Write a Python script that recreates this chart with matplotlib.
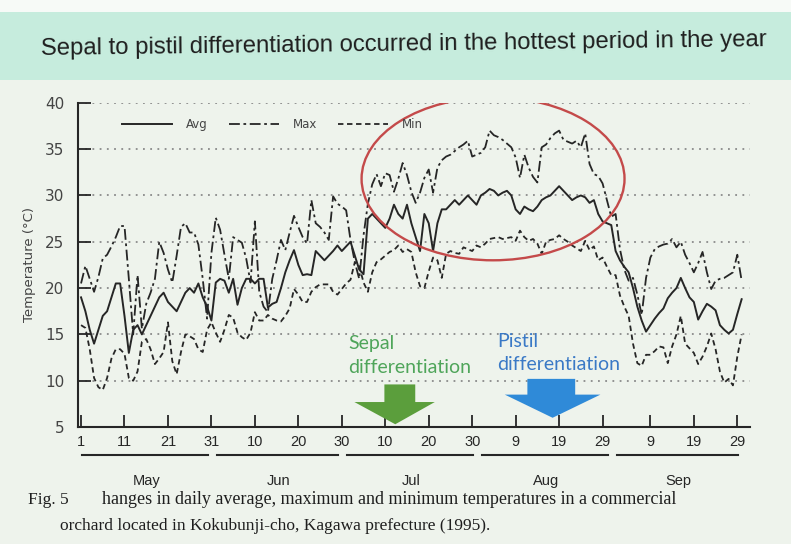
import numpy as np
import matplotlib
matplotlib.use("Agg")
import matplotlib.pyplot as plt
from matplotlib.patches import Ellipse, Polygon, Rectangle
from matplotlib.lines import Line2D

# daily temperatures, 1 May - 30 Sep 1995
avg_may = [19, 17.5, 15.5, 14, 15.5, 17, 17.5, 19, 20.5, 20.5,
           17, 13, 15.5, 16, 15, 16, 17, 18, 19, 19.5,
           18.5, 18, 17.5, 18.5, 19.5, 20, 19.5, 20.5, 19, 18, 16.5]
avg_jun = [20.6, 21, 20.8, 19.5, 21, 18.2, 20, 21, 21, 20.5,
           21, 21, 17.9, 18.3, 18.5, 20, 21.7, 23, 24.1, 22.5,
           21.4, 21.5, 21.4, 24, 23.5, 23, 23.5, 24, 24.6, 24]
avg_jul = [24.5, 25, 23.5, 22, 21.5, 27.5, 28, 27.5, 27, 26.5,
           27.5, 29, 28, 27.5, 29, 27, 25.5, 24, 28, 27,
           24, 27, 28.5, 28.5, 29, 29.5, 29, 29.5, 30, 29.5, 29]
avg_aug = [30, 30.3, 30.7, 30.5, 30, 30.3, 30.5, 30, 28.5, 28,
           28.8, 28.5, 28.3, 28.8, 29.5, 29.8, 30, 30.5, 31, 30.5,
           30, 29.5, 29.8, 30, 29.8, 29.2, 29.5, 28, 27.2, 27, 26.8]
avg_sep = [24, 23, 22.3, 21.7, 20, 18, 16.5, 15.3, 16, 16.7,
           17.3, 17.8, 18.9, 19.5, 20, 21.1, 20, 19, 18.5, 16.6,
           17.5, 18.3, 18, 17.6, 16, 15.5, 15.1, 15.5, 17.2, 18.8]

max_may = [20.5, 22.4, 21, 19.6, 21.2, 23.2, 23.6, 24.5, 25.5, 26.7,
           26.7, 21, 15, 21.4, 15.6, 18.3, 19.5, 21, 25, 23.8,
           22, 20.6, 23.5, 26.6, 27, 26, 26, 24.7, 21, 16.7, 23.8]
max_jun = [27.6, 26.3, 23.6, 21, 25.5, 25.2, 24.9, 23.2, 20.6, 27.2,
           19.6, 18, 17.4, 21, 23, 25.2, 24.1, 26, 27.8, 26.6,
           25.5, 24.8, 29.5, 27, 26.6, 26, 25.2, 29.9, 29.1, 28.8]
max_jul = [28.4, 25.2, 22.8, 21, 25.7, 29.1, 31.2, 32.3, 31, 32.4,
           32.2, 30.4, 31.8, 33.5, 32.2, 30.4, 29.2, 30.3, 31.9, 32.8,
           30.3, 33, 33.8, 34.2, 34.4, 34.8, 35.2, 35.5, 35.9, 34.2, 34.4]
max_aug = [34.6, 35.2, 37, 36.5, 36.3, 36, 35.6, 35.2, 34.1, 31.9,
           34.4, 33, 32, 31.4, 35.2, 35.5, 36.2, 36.7, 37, 36,
           35.8, 35.6, 35.9, 35.2, 36.7, 33.4, 32.3, 32.1, 31.3, 29.5, 27.7]
max_sep = [28, 24.2, 22, 20.8, 21.1, 19.3, 17.1, 21.1, 23.3, 24.2,
           24.5, 24.7, 24.8, 25.3, 24.4, 25, 23.6, 22.7, 21.7, 22.7,
           23.9, 21.7, 19.9, 20.8, 21, 21.1, 21.4, 21.7, 23.6, 20.8]

min_may = [16, 15.7, 13.4, 10.3, 9.3, 9, 10.3, 12.4, 13.4, 13.4,
           12.9, 10.3, 10, 11, 14.2, 14.5, 13.4, 11.8, 12.4, 13.1,
           16.3, 12.1, 10.7, 13.1, 15, 14.8, 14.5, 13.4, 13.1, 15.5, 16.3]
min_jun = [15.2, 14.2, 15.5, 17.1, 16.8, 15.2, 14.7, 14.4, 15.2, 17.4,
           16.5, 16.5, 17.1, 16.7, 16.5, 16.4, 17, 17.8, 19.9, 19.3,
           18.5, 18.5, 19.6, 20.1, 20.4, 20.4, 20.4, 19.6, 19.3, 19.9]
min_jul = [20.5, 20.9, 22.8, 22.4, 20.6, 19.6, 21.7, 22.8, 23.1, 23.5,
           23.9, 24.1, 24.6, 23.9, 24.2, 23.9, 21.7, 20.2, 20, 21.8,
           23.3, 23, 21.1, 23.7, 24, 23.8, 23.7, 24.4, 24.2, 24, 24.6]
min_aug = [24.4, 24.8, 25.3, 25.4, 25.5, 25.3, 25.4, 25.5, 25.1, 26.2,
           25.5, 25.1, 25.3, 24.8, 23.7, 25, 25.2, 25.3, 25.7, 25.3,
           25, 24.6, 24.3, 24, 25.1, 24.1, 24.5, 23, 23.3, 22.3, 21.4]
min_sep = [21.4, 19.2, 18, 17, 14, 11.9, 11.6, 12.8, 12.8, 13.2,
           13.7, 13.6, 11.9, 13.7, 15, 17, 14, 13.5, 13, 11.8,
           12.6, 13.7, 15.1, 13.4, 11, 9.8, 10.2, 9.5, 12.6, 15]

t_avg = avg_may + avg_jun + avg_jul + avg_aug + avg_sep
t_max = max_may + max_jun + max_jul + max_aug + max_sep
t_min = min_may + min_jun + min_jul + min_aug + min_sep
days = np.arange(1, len(t_avg) + 1)

tick_days = [1, 11, 21, 31, 41, 51, 61, 71, 81, 91, 101, 111, 121, 132, 142, 152]
tick_labels = ["1", "11", "21", "31", "10", "20", "30", "10", "20", "30",
               "9", "19", "29", "9", "19", "29"]
months = ["May", "Jun", "Jul", "Aug", "Sep"]
month_start = [1, 32, 62, 93, 124]
month_end = [31, 61, 92, 123, 153]

ink = "#262626"
narrow = ["Liberation Sans Narrow", "Liberation Sans", "DejaVu Sans"]

fig = plt.figure(figsize=(7.91, 5.44), dpi=100, facecolor="#eef3ec")

# title band
fig.patches.append(Rectangle((0, 1 - 80 / 544), 1, 68 / 544, transform=fig.transFigure,
                             facecolor="#c6ecdd", edgecolor="none", zorder=0))
fig.patches.append(Rectangle((0, 1 - 12 / 544), 1, 12 / 544, transform=fig.transFigure,
                             facecolor="#f7faf7", edgecolor="none", zorder=0))
fig.text(0.51, 1 - 45 / 544, "Sepal to pistil differentiation occurred in the hottest period in the year",
         ha="center", va="center", fontsize=17.2, color="#1e1e1e", family=narrow, rotation=0.7)

ax = fig.add_axes([0.0986, 0.215, 0.85, 0.596])
ax.set_facecolor("none")

ax.plot(days, t_avg, color=ink, lw=1.4, ls="-", label="Avg")
ax.plot(days, t_max, color=ink, lw=1.3, ls=(0, (6, 2, 1.5, 2)), label="Max")
ax.plot(days, t_min, color=ink, lw=1.3, ls=(0, (3, 2)), label="Min")

ax.set_xlim(0.3, 155)
ax.set_ylim(5, 40)
ax.set_yticks(range(5, 41, 5))
ax.set_xticks(tick_days)
ax.set_xticklabels(tick_labels, family=narrow)
ax.tick_params(axis="x", direction="in", length=9, width=1.3, colors=ink, labelsize=10.5, pad=6)
ax.tick_params(axis="y", direction="in", length=9, width=1.3, colors=ink, labelsize=11, pad=10)
for lab in ax.get_yticklabels():
    lab.set_color("#444444")
for s in ["top", "right"]:
    ax.spines[s].set_visible(False)
for s in ["left", "bottom"]:
    ax.spines[s].set_linewidth(1.5)
    ax.spines[s].set_color(ink)

for v in range(10, 41, 5):
    ax.axhline(v, color="#8a8a8a", lw=1.3, ls=(0, (1, 3)), zorder=0)

ax.set_ylabel("Temperature (°C)", fontsize=9.5, color="#444444", labelpad=6)

# month underlines and names
for name, d0, d1 in zip(months, month_start, month_end):
    ax.plot([d0 + 0.3, d1 - 0.8], [-0.085, -0.085], transform=ax.get_xaxis_transform(),
            color=ink, lw=1.5, clip_on=False)
    ax.text((d0 + d1) / 2, -0.165, name, transform=ax.get_xaxis_transform(),
            ha="center", va="center", fontsize=10.5, color=ink, family=narrow)

handles = [Line2D([], [], color=ink, lw=1.4, ls="-"),
           Line2D([], [], color=ink, lw=1.3, ls=(0, (6, 2, 1.5, 2))),
           Line2D([], [], color=ink, lw=1.3, ls=(0, (3, 2)))]
ax.legend(handles, ["Avg", "Max", "Min"], loc="upper left", bbox_to_anchor=(0.05, 0.985),
          ncol=3, frameon=False, fontsize=8.5, handlelength=4.2, columnspacing=1.8,
          handletextpad=1.2, labelcolor="#444444")

# hot period ellipse
ax.add_patch(Ellipse((95.8, 31.8), 60.5, 17.6, fill=False, edgecolor="#c44a4a", lw=1.7, zorder=5))

# arrows
green = Polygon([(70.8, 9.6), (77.9, 9.6), (77.9, 7.7), (82.4, 7.7), (73.3, 5.3),
                 (63.9, 7.7), (70.8, 7.7)], closed=True, facecolor="#5b9e3c",
                edgecolor="none", zorder=6, clip_on=False)
blue = Polygon([(103.7, 10.2), (114.7, 10.2), (114.7, 8.5), (120.5, 8.5), (109.5, 6.0),
                (98.5, 8.5), (103.7, 8.5)], closed=True, facecolor="#2f8ad8",
               edgecolor="none", zorder=6, clip_on=False)
ax.add_patch(green)
ax.add_patch(blue)

ax.text(62.4, 14.9, "Sepal\ndifferentiation", ha="left", va="top", fontsize=14,
        color="#4fa55a", family=["Lato", "DejaVu Sans"], linespacing=1.45, zorder=7)
ax.text(96.8, 15.2, "Pistil\ndifferentiation", ha="left", va="top", fontsize=14,
        color="#3a79c6", family=["Lato", "DejaVu Sans"], linespacing=1.45, zorder=7)

serif = ["Liberation Serif", "DejaVu Serif"]
fig.text(28 / 791, 1 - 500 / 544, "Fig. 5", fontsize=12.5, color="#1e1e1e", family=serif, va="center")
fig.text(102 / 791, 1 - 499 / 544,
         "hanges in daily average, maximum and minimum temperatures in a commercial",
         fontsize=13, color="#1e1e1e", family=serif, va="center")
fig.text(60 / 791, 1 - 526 / 544,
         "orchard located in Kokubunji-cho, Kagawa prefecture (1995).",
         fontsize=12.5, color="#1e1e1e", family=serif, va="center")

fig.savefig("out.png", dpi=100, facecolor=fig.get_facecolor())
